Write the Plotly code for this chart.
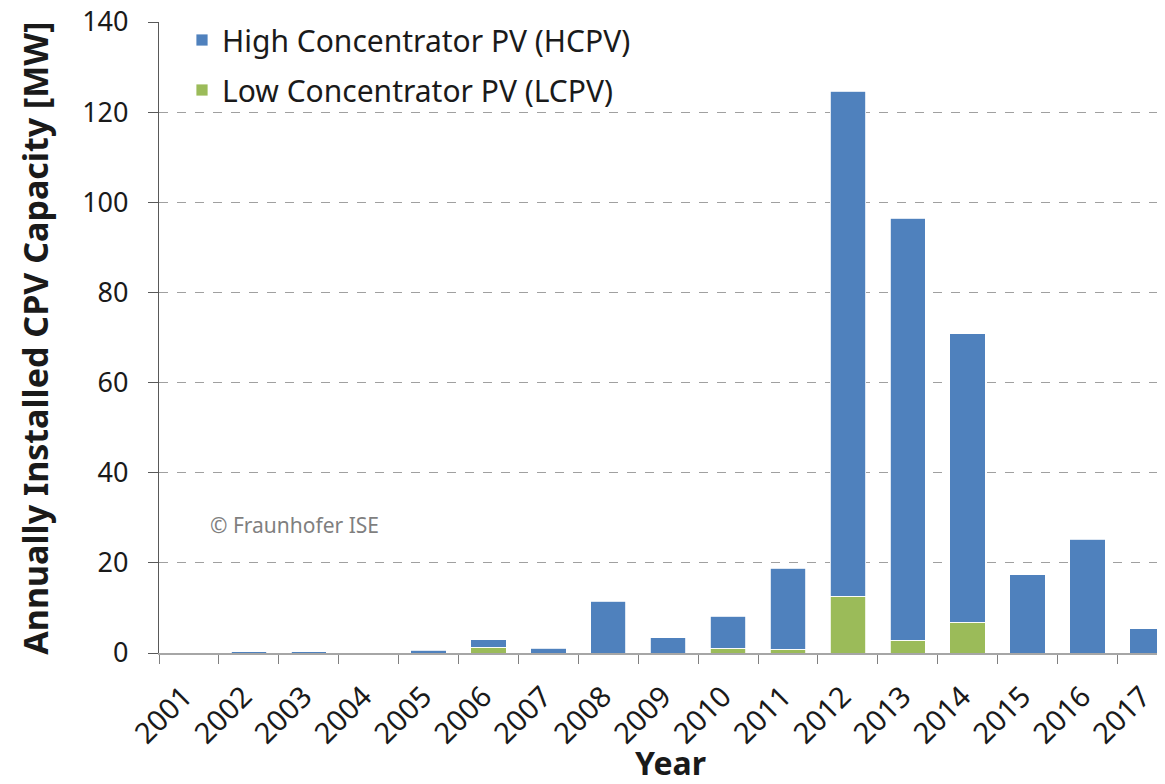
import plotly.graph_objects as go

years = [str(y) for y in range(2001, 2018)]
lcpv = [0, 0, 0, 0, 0, 1.3, 0, 0, 0, 1.0, 0.8, 12.6, 2.8, 6.8, 0, 0, 0]
total = [0, 0.3, 0.3, 0, 0.6, 2.9, 1.1, 11.5, 3.4, 8.2, 18.8, 124.6, 96.5, 70.8, 17.4, 25.2, 5.4]
hcpv = [round(t - l, 2) for t, l in zip(total, lcpv)]

FONT = "Noto Sans"
OFF = 8  # page body margin
W, H = 1165 - OFF, 784 - OFF
L = 159 - OFF
T = 22 - OFF
BOT = 653.5 - OFF
B = H - BOT
pw = W - L
ph = BOT - T


def px_x(ax):  # absolute window pixel -> paper x
    return (ax - OFF - L) / pw


def px_y(ay):  # absolute window pixel -> paper y
    return (BOT - (ay - OFF)) / ph


fig = go.Figure()
fig.add_trace(go.Bar(
    x=years, y=lcpv, name="Low Concentrator PV (LCPV)",
    marker=dict(color="#9bbb59", line=dict(color="white", width=0.8)),
    legendrank=2, legendgroup="lcpv",
))
fig.add_trace(go.Bar(
    x=years, y=hcpv, name="High Concentrator PV (HCPV)",
    marker=dict(color="#4f81bd", line=dict(color="white", width=0.8)),
    legendrank=1, legendgroup="hcpv",
))

cat_px = 59.9
xmax = -0.5 + pw / cat_px

fig.update_layout(
    width=W, height=H,
    barmode="stack", bargap=0.41,
    plot_bgcolor="white", paper_bgcolor="white",
    margin=dict(l=L, r=0, t=T, b=B, autoexpand=False),
    font=dict(family=FONT, color="#1a1a1a"),
    showlegend=True,
    legend=dict(
        x=px_x(182), y=px_y(14), xanchor="left", yanchor="top",
        traceorder="grouped", tracegroupgap=8,
        font=dict(size=30, family=FONT, color="#1a1a1a"),
        bgcolor="rgba(0,0,0,0)",
    ),
    xaxis=dict(
        type="category", range=[-0.5, xmax],
        tickvals=years, ticktext=[y + "\u00a0" for y in years],
        showline=True, linecolor="#a6a6a6", linewidth=1.5,
        ticks="outside", tickson="boundaries", ticklen=9, tickcolor="#808080",
        tickangle=-45, ticklabelstandoff=8,
        tickfont=dict(size=29, family=FONT, color="#1a1a1a"),
        showgrid=False, ticklabeloverflow="allow",
    ),
    yaxis=dict(
        range=[0, 140], tickvals=[0, 20, 40, 60, 80, 100, 120, 140],
        showline=True, linecolor="#595959", linewidth=1.2,
        ticks="outside", ticklen=10, tickcolor="#595959",
        ticklabelstandoff=14, ticklabeloverflow="allow",
        tickfont=dict(size=27, family=FONT, color="#1a1a1a"),
        showgrid=True, gridcolor="#a0a0a0", griddash="dash", gridwidth=1,
        zeroline=False,
    ),
    annotations=[
        dict(text="<b>Annually Installed CPV Capacity [MW]</b>", textangle=-90,
             xref="paper", yref="paper", x=px_x(35), y=px_y(339),
             xanchor="center", yanchor="middle", showarrow=False,
             font=dict(size=34, family=FONT, color="#1a1a1a")),
        dict(text="<b>Year</b>", xref="paper", yref="paper",
             x=px_x(670), y=px_y(763),
             xanchor="center", yanchor="middle", showarrow=False,
             font=dict(size=32, family=FONT, color="#1a1a1a")),
        dict(text="© Fraunhofer ISE", xref="paper", yref="paper",
             x=px_x(208), y=px_y(525), xanchor="left", yanchor="middle",
             showarrow=False, font=dict(size=21, family=FONT, color="#7f7f7f")),
    ],
)

fig.write_html("out.html")
